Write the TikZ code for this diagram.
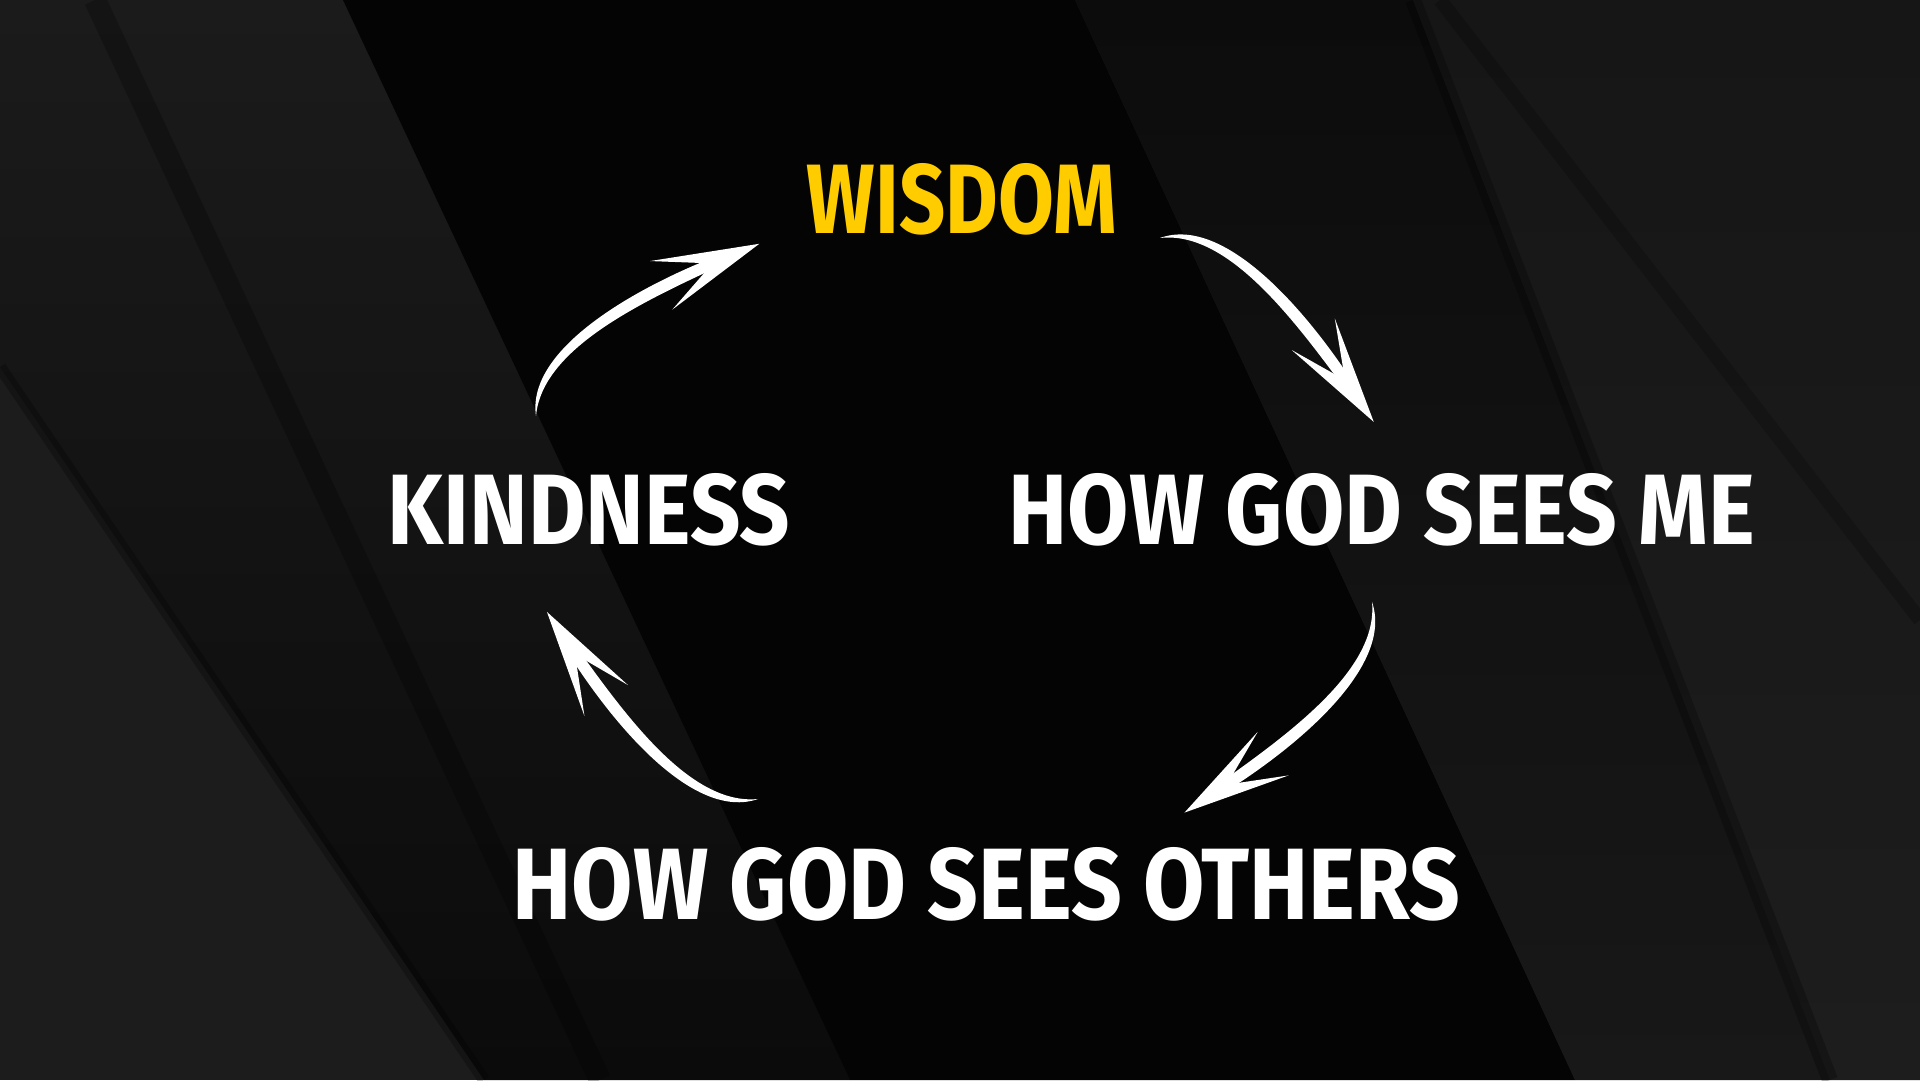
\documentclass[tikz,border=0pt]{standalone}
\usepackage{fontspec}
\setmainfont{Fira Sans}
\usepackage{graphicx}
\definecolor{bgbase}{HTML}{1C1C1C}
\definecolor{bgband}{HTML}{040404}
\definecolor{wisdomyellow}{HTML}{FFCC00}
\tikzset{
  cyclabel/.style={inner sep=0pt, outer sep=0pt, font=\bfseries},
  arrowfill/.style={fill=white},
  bgline/.style={draw=black, draw opacity=0.25},
  cycarrow/.pic={
    \fill[arrowfill] (0,0) .. controls (33.5,59.7) and (159.7,40.6) .. (246,14.7)
       -- (243.4,5.1) .. controls (155.7,25.2) and (46.5,50.3) .. (0,0) -- cycle;
    \fill[arrowfill] (282,0) -- (185,53) -- (233,13) -- (173,1) -- cycle;
  }
}
\begin{document}
\begin{tikzpicture}[x=1pt,y=1pt]
\useasboundingbox (0,0) rectangle (1920,1080);
% background
\fill[bgbase] (0,0) rectangle (1920,1080);
\shade[top color={rgb,255:red,27;green,27;blue,27}, bottom color={rgb,255:red,11;green,11;blue,11}]
  (0,1080) -- (343,1080) -- (850,0) -- (484,0) -- (0,713) -- cycle;
\draw[bgline, line width=12pt] (0,713) -- (484,0);
\draw[bgline, line width=22pt] (95,1080) -- (600,0);
\fill[bgband] (343,1080) -- (1075,1080) -- (1575,0) -- (850,0) -- cycle;
\shade[top color={rgb,255:red,12;green,12;blue,12}, bottom color={rgb,255:red,24;green,24;blue,24}]
  (1075,1080) -- (1413,1080) -- (1830,0) -- (1575,0) -- cycle;
\shade[top color={rgb,255:red,22;green,22;blue,22}, bottom color={rgb,255:red,29;green,29;blue,29}]
  (1413,1080) -- (1920,1080) -- (1920,0) -- (1830,0) -- cycle;
\draw[bgline, line width=16pt] (1830,0) -- (1413,1080);
\draw[bgline, line width=14pt, draw opacity=0.2] (1440,1080) -- (1920,460);
% labels
\node[cyclabel, text=wisdomyellow] (wisdom) at (962,881) {\resizebox{310pt}{70pt}{WISDOM}};
\node[cyclabel, text=white] (kindness) at (589,570.5) {\resizebox{402pt}{71pt}{KINDNESS}};
\node[cyclabel, text=white] (seesme) at (1382,570.5) {\resizebox{746pt}{71pt}{HOW GOD SEES ME}};
\node[cyclabel, text=white] (seesothers) at (986.5,196) {\resizebox{947pt}{72pt}{HOW GOD SEES OTHERS}};
% arrow anchors
\coordinate (kw) at (536,664);
\coordinate (wm) at (1160,842);
\coordinate (mo) at (1372,478);
\coordinate (ok) at (758,281);
\pic[rotate=37.64] at (kw) {cycarrow};
\pic[rotate=-40.71] at (wm) {cycarrow};
\pic[rotate=-131.68] at (mo) {cycarrow};
\pic[rotate=138.45] at (ok) {cycarrow};
\end{tikzpicture}
\end{document}
